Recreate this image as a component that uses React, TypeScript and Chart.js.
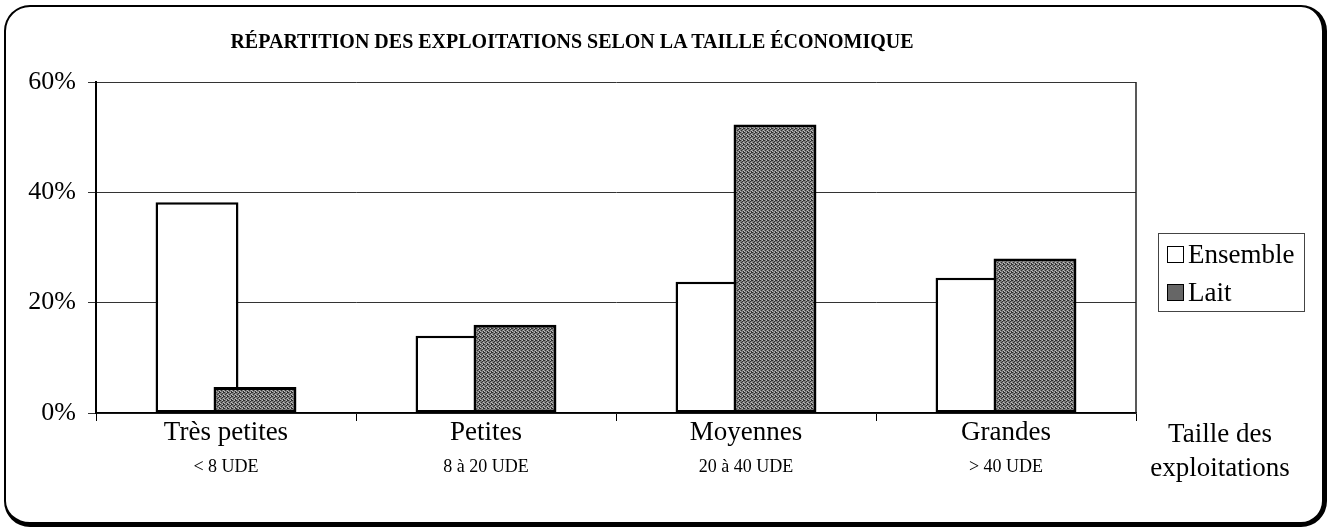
import React, { useEffect, useRef } from 'react';
import { Chart, registerables } from 'chart.js';

Chart.register(...registerables);

// ---- data ----
const categories = ['Très petites', 'Petites', 'Moyennes', 'Grandes'];
const subCategories = ['< 8 UDE', '8 à 20 UDE', '20 à 40 UDE', '> 40 UDE'];
const seriesNames = ['Ensemble', 'Lait'];
const ensembleValues = [38.2, 14, 23.8, 24.5];
const laitValues = [4.7, 16, 52.3, 28];
const yTickValues = [0, 20, 40, 60];
const chartTitle = 'RÉPARTITION DES EXPLOITATIONS SELON LA TAILLE ÉCONOMIQUE';
const axisTitleLines = ['Taille des', 'exploitations'];

const FONT = '"Liberation Serif", "Times New Roman", serif';

function makeGrayPattern(): CanvasPattern | string {
  const c = document.createElement('canvas');
  c.width = 4;
  c.height = 4;
  const ctx = c.getContext('2d');
  if (!ctx) return '#6e6e6e';
  ctx.fillStyle = '#7c7c7c';
  ctx.fillRect(0, 0, 4, 4);
  ctx.fillStyle = '#2e2e2e';
  ctx.fillRect(0, 0, 1, 1);
  ctx.fillRect(2, 1, 1, 1);
  ctx.fillRect(1, 2, 1, 1);
  ctx.fillRect(3, 3, 1, 1);
  ctx.fillRect(3, 0, 1, 1);
  ctx.fillStyle = '#bdbdbd';
  ctx.fillRect(2, 0, 1, 1);
  ctx.fillRect(0, 3, 1, 1);
  ctx.fillRect(3, 2, 1, 1);
  const p = ctx.createPattern(c, 'repeat');
  return p || '#6e6e6e';
}

// draw datasets in their natural order so that the second series overlaps the first
const drawOrderPlugin = {
  id: 'drawOrder',
  beforeDatasetsDraw(chart: any) {
    const metas = chart.getSortedVisibleDatasetMetas();
    const area = chart.chartArea;
    const ctx = chart.ctx;
    ctx.save();
    ctx.beginPath();
    ctx.rect(area.left - 4, area.top - 4, area.right - area.left + 8, area.bottom - area.top + 8);
    ctx.clip();
    for (const m of metas) m.controller.draw();
    ctx.restore();
    return false;
  },
};

const plotFramePlugin = {
  id: 'plotFrame',
  afterDraw(chart: any) {
    const { ctx, chartArea } = chart;
    ctx.save();
    ctx.strokeStyle = '#222';
    ctx.lineWidth = 1.5;
    ctx.beginPath();
    ctx.moveTo(chartArea.right, chartArea.top);
    ctx.lineTo(chartArea.right, chartArea.bottom);
    ctx.stroke();
    ctx.restore();
  },
};

export default function App() {
  const canvasRef = useRef<HTMLCanvasElement | null>(null);

  useEffect(() => {
    if (!canvasRef.current) return;
    const pattern = makeGrayPattern();
    const chart = new Chart(canvasRef.current, {
      type: 'bar',
      data: {
        labels: categories,
        datasets: [
          {
            label: seriesNames[0],
            data: ensembleValues,
            backgroundColor: '#ffffff',
            borderColor: '#000000',
            borderWidth: 2.5,
            borderSkipped: false,
            xAxisID: 'x',
          },
          {
            label: seriesNames[1],
            data: laitValues,
            backgroundColor: pattern as any,
            borderColor: '#000000',
            borderWidth: 3,
            borderSkipped: false,
            xAxisID: 'x',
          },
        ],
      },
      options: {
        responsive: false,
        animation: false,
        categoryPercentage: 0.446,
        barPercentage: 1.43,
        layout: { padding: { top: 82, right: 194, bottom: 0, left: 0 } },
        plugins: {
          legend: { display: false },
          title: { display: false },
          tooltip: { enabled: false },
        },
        scales: {
          x: {
            type: 'category',
            position: 'bottom',
            weight: 0,
            offset: true,
            grid: {
              display: true,
              drawOnChartArea: false,
              drawTicks: true,
              tickLength: 8,
              color: '#000',
              lineWidth: 1,
              offset: true,
            },
            border: { display: true, color: '#000', width: 1.5 },
            ticks: {
              color: '#000',
              font: { family: FONT, size: 27 },
              padding: -4,
              maxRotation: 0,
              autoSkip: false,
            },
            afterFit: (s: any) => {
              s.height = 44;
            },
          },
          x2: {
            type: 'category',
            position: 'bottom',
            weight: 1,
            offset: true,
            labels: subCategories,
            grid: { display: false, drawTicks: false },
            border: { display: false },
            ticks: {
              color: '#000',
              font: { family: FONT, size: 18 },
              padding: -1,
              maxRotation: 0,
              autoSkip: false,
            },
            afterFit: (s: any) => {
              s.height = 72;
            },
          },
          y: {
            position: 'left',
            min: 0,
            max: 60,
            grid: {
              color: '#333',
              lineWidth: 1,
              tickLength: 8,
              drawTicks: true,
            },
            border: { display: true, color: '#000', width: 2 },
            ticks: {
              color: '#000',
              font: { family: FONT, size: 26 },
              padding: 12,
              callback: (v: any) => v + '%',
            },
            afterBuildTicks: (s: any) => {
              s.ticks = yTickValues.map((v) => ({ value: v }));
            },
            afterFit: (s: any) => {
              s.width = 96;
            },
          },
        },
      },
      plugins: [drawOrderPlugin, plotFramePlugin],
    } as any);
    return () => chart.destroy();
  }, []);

  return (
    <div
      style={{
        position: 'absolute',
        left: 0,
        top: 0,
        width: 1330,
        height: 529,
        background: '#fff',
        fontFamily: FONT,
        color: '#000',
        overflow: 'hidden',
      }}
    >
      <canvas
        ref={canvasRef}
        width={1330}
        height={529}
        style={{ position: 'absolute', left: 0, top: 0, display: 'block' }}
      />
      <div
        style={{
          position: 'absolute',
          left: 4,
          top: 5,
          width: 1323,
          height: 522,
          boxSizing: 'border-box',
          border: '2px solid #000',
          borderRightWidth: 5,
          borderBottomWidth: 5,
          borderRadius: 26,
          pointerEvents: 'none',
        }}
      />
      <div
        style={{
          position: 'absolute',
          left: 0,
          top: 30,
          width: 1144,
          textAlign: 'center',
          fontWeight: 'bold',
          fontSize: 20,
          lineHeight: '22px',
          whiteSpace: 'nowrap',
        }}
      >
        {chartTitle}
      </div>
      <div
        style={{
          position: 'absolute',
          left: 1158,
          top: 233,
          width: 147,
          height: 79,
          boxSizing: 'border-box',
          border: '1px solid #444',
          paddingTop: 1,
        }}
      >
        {seriesNames.map((name, i) => (
          <div
            key={name}
            style={{ display: 'flex', alignItems: 'center', height: 38, paddingLeft: 8 }}
          >
            <span
              style={{
                display: 'inline-block',
                width: 17,
                height: 17,
                boxSizing: 'border-box',
                border: '1.5px solid #000',
                background: i === 0 ? '#fff' : '#666',
                marginRight: 4,
              }}
            />
            <span style={{ fontSize: 27, lineHeight: '30px' }}>{name}</span>
          </div>
        ))}
      </div>
      <div
        style={{
          position: 'absolute',
          left: 1148,
          top: 416,
          width: 144,
          textAlign: 'center',
          fontSize: 27,
          lineHeight: '34px',
        }}
      >
        {axisTitleLines.map((l) => (
          <div key={l}>{l}</div>
        ))}
      </div>
    </div>
  );
}
